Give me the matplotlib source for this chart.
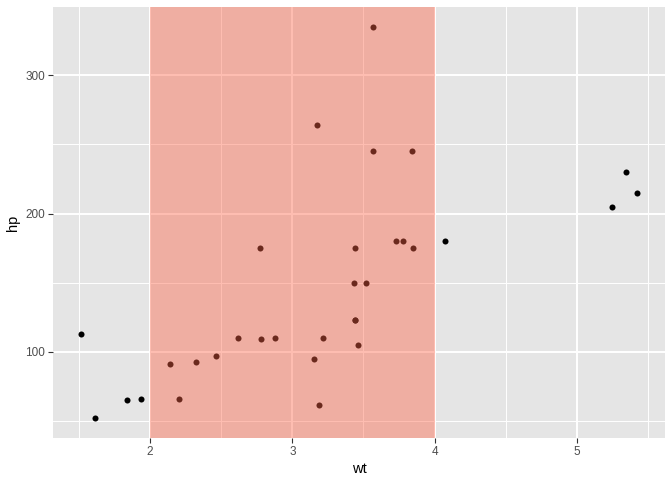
import matplotlib
matplotlib.use("Agg")
import matplotlib.pyplot as plt
import numpy as np

plt.rcParams["font.family"] = ["Liberation Sans", "DejaVu Sans"]

# mtcars weight and horsepower
wt = [2.620, 2.875, 2.320, 3.215, 3.440, 3.460, 3.570, 3.190, 3.150, 3.440,
      3.440, 4.070, 3.730, 3.780, 5.250, 5.424, 5.345, 2.200, 1.615, 1.835,
      2.465, 3.520, 3.435, 3.840, 3.845, 1.935, 2.140, 1.513, 3.170, 2.770,
      3.570, 2.780]
hp = [110, 110, 93, 110, 175, 105, 245, 62, 95, 123,
      123, 180, 180, 180, 205, 215, 230, 66, 52, 65,
      97, 150, 150, 245, 175, 66, 91, 113, 264, 175,
      335, 109]

# shaded band on the x axis
band_x = [2, 4]

x_ticks = [2, 3, 4, 5]
y_ticks = [100, 200, 300]

fig = plt.figure(figsize=(6.72, 4.8), dpi=100)
ax = fig.add_axes([53 / 672, 42 / 480, 612 / 672, 431 / 480])
ax.set_facecolor("#E5E5E5")

# ggplot-like expansion of 5%
xr = max(wt) - min(wt)
yr = max(hp) - min(hp)
ax.set_xlim(min(wt) - 0.05 * xr, max(wt) + 0.05 * xr)
ax.set_ylim(min(hp) - 0.05 * yr, max(hp) + 0.05 * yr)

# grid lines
for x in np.arange(1.5, 6, 1):
    ax.axvline(x, color="white", lw=0.7, zorder=0.5)
for y in [50, 150, 250]:
    ax.axhline(y, color="white", lw=0.7, zorder=0.5)
for x in x_ticks:
    ax.axvline(x, color="white", lw=1.4, zorder=0.6)
for y in y_ticks:
    ax.axhline(y, color="white", lw=1.4, zorder=0.6)

ax.scatter(wt, hp, s=19, color="black", linewidths=0, zorder=2)

# band drawn over the points
ax.axvspan(band_x[0], band_x[1], color="tomato", alpha=0.42, lw=0, zorder=3)

ax.set_xticks(x_ticks)
ax.set_yticks(y_ticks)
ax.tick_params(colors="#333333", labelcolor="#4D4D4D", labelsize=8.5,
               length=3.7, width=0.8, pad=2)
for s in ax.spines.values():
    s.set_visible(False)

ax.set_xlabel("wt", fontsize=10.5, color="black", labelpad=3)
ax.set_ylabel("hp", fontsize=10.5, color="black", labelpad=4)

fig.savefig("out.png", dpi=100)
